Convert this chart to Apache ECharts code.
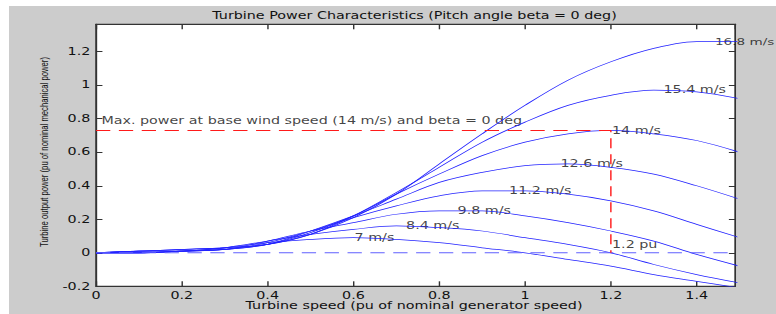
<!DOCTYPE html>
<html>
<head>
<meta charset="utf-8">
<script src="https://cdn.jsdelivr.net/npm/echarts@6/dist/echarts.min.js"></script>
<style>
  html, body { margin: 0; padding: 0; background: #ffffff; }
  #frame { position: absolute; left: 9px; top: 6px; width: 767px; height: 308px; background: #cccccc; }
  /* the reference is a horizontally stretched MATLAB figure, so we stretch too */
  #chart { position: absolute; left: 0; top: 0; width: 543px; height: 314px; transform-origin: 0 0; transform: scaleX(1.4291); }
</style>
</head>
<body>
<div id="frame"></div>
<div id="chart"></div>
<script>
// turbine speed (pu) where the curves were read
const speed = [0, 0.1, 0.2, 0.3, 0.4, 0.5, 0.6, 0.7, 0.8, 0.9, 1.0, 1.1, 1.2, 1.3, 1.4, 1.5];

// turbine output power (pu), one list per wind speed
const power7   = [0, 0.00, 0.01, 0.03, 0.06, 0.08, 0.09, 0.08, 0.06, 0.03, 0.00, -0.04, -0.08, -0.13, -0.17, -0.21];
const power8_4 = [0, 0.00, 0.01, 0.03, 0.07, 0.11, 0.14, 0.16, 0.15, 0.13, 0.09, 0.05, 0.00, -0.07, -0.13, -0.18];
const power9_8 = [0, 0.00, 0.01, 0.02, 0.07, 0.13, 0.18, 0.23, 0.25, 0.25, 0.22, 0.18, 0.13, 0.07, -0.01, -0.08];
const power11_2 = [0, 0.00, 0.01, 0.02, 0.06, 0.13, 0.21, 0.28, 0.34, 0.37, 0.37, 0.35, 0.31, 0.25, 0.17, 0.09];
const power12_6 = [0, 0.01, 0.01, 0.02, 0.05, 0.13, 0.22, 0.32, 0.42, 0.48, 0.52, 0.53, 0.51, 0.47, 0.40, 0.32];
const power14  = [0, 0.01, 0.01, 0.02, 0.05, 0.12, 0.22, 0.35, 0.47, 0.58, 0.66, 0.71, 0.73, 0.71, 0.67, 0.60];
const power15_4 = [0, 0.01, 0.02, 0.03, 0.05, 0.11, 0.22, 0.36, 0.51, 0.66, 0.78, 0.88, 0.94, 0.97, 0.96, 0.92];
const power16_8 = [0, 0.01, 0.02, 0.03, 0.05, 0.11, 0.21, 0.35, 0.53, 0.71, 0.88, 1.03, 1.14, 1.22, 1.26, 1.26];

// curve names and where each name is written (at the curve's maximum)
const windLabels = ['7 m/s', '8.4 m/s', '9.8 m/s', '11.2 m/s', '12.6 m/s', '14 m/s', '15.4 m/s', '16.8 m/s'];
const peakSpeed = [0.6, 0.72, 0.84, 0.96, 1.08, 1.2, 1.32, 1.44];
const peakPower = [0.09, 0.16, 0.25, 0.37, 0.53, 0.73, 0.97, 1.26];

// base point marked by the red dashed lines
const baseSpeed = 1.2;
const basePower = 0.73;

const curves = [power7, power8_4, power9_8, power11_2, power12_6, power14, power15_4, power16_8];

const FONT = '"DejaVu Sans", sans-serif';
const stretch = 776 / 543;
const px = v => v / stretch;   // outer (screen) x -> inner chart x

const element = document.getElementById('chart');
const chart = echarts.init(element, null, { renderer: 'svg' });

const axisCommon = {
    type: 'value',
    axisLine: { show: true, onZero: false, lineStyle: { color: '#333', width: 1 } },
    axisTick: { show: true, inside: true, lineStyle: { color: '#333' } },
    splitLine: { show: false },
    axisLabel: { fontFamily: FONT, fontSize: 10, color: '#111', showMaxLabel: false }
};

const curveSeries = curves.map((values, i) => ({
    name: windLabels[i],
    type: 'line',
    data: speed.map((x, j) => [x, values[j]]),
    showSymbol: false,
    smooth: 0.35,
    silent: true,
    lineStyle: { color: '#2222ff', width: 0.75 }
}));

const notes = windLabels.map((t, i) => ({ value: [peakSpeed[i], peakPower[i], t] }));
// last curve name sits at the right edge of the figure; a hair smaller so it fits
notes[notes.length - 1].label = { fontSize: 9.5 };
notes.push({ value: [0.01, 0.79, 'Max. power at base wind speed (14 m/s) and beta = 0 deg'] });
notes.push({ value: [baseSpeed, 0.05, '1.2 pu'] });

var option = {
    animation: false,
    grid: {
        left: px(96), top: 24.3, width: px(639.3), height: 262,
        show: true, backgroundColor: '#ffffff', borderColor: '#333', borderWidth: 1
    },
    xAxis: [
        Object.assign({}, axisCommon, {
            position: 'bottom', min: 0, max: 1.49, interval: 0.2,
            axisTick: Object.assign({}, axisCommon.axisTick, { length: 5 }),
            axisLabel: Object.assign({}, axisCommon.axisLabel, { margin: 4 })
        }),
        Object.assign({}, axisCommon, {
            position: 'top', min: 0, max: 1.49, interval: 0.2,
            axisTick: Object.assign({}, axisCommon.axisTick, { length: 5 }),
            axisLabel: { show: false }
        })
    ],
    yAxis: [
        Object.assign({}, axisCommon, {
            position: 'left', min: -0.2, max: 1.3635, interval: 0.2,
            axisTick: Object.assign({}, axisCommon.axisTick, { length: 4.5 }),
            axisLabel: Object.assign({}, axisCommon.axisLabel, { margin: 4 })
        }),
        Object.assign({}, axisCommon, {
            position: 'right', min: -0.2, max: 1.3635, interval: 0.2,
            axisTick: Object.assign({}, axisCommon.axisTick, { length: 4.5 }),
            axisLabel: { show: false }
        })
    ],
    series: curveSeries.concat([
        {
            type: 'line',
            data: [[0, 0], [1.49, 0]],
            showSymbol: false,
            silent: true,
            lineStyle: { color: '#6060ff', width: 1, type: [10, 6] }
        },
        {
            type: 'line',
            data: [[0, basePower], [baseSpeed, basePower], [baseSpeed, 0]],
            showSymbol: false,
            silent: true,
            lineStyle: { color: '#ff1a1a', width: 1, type: [10, 6] }
        },
        {
            type: 'scatter',
            data: notes,
            symbolSize: 1,
            itemStyle: { color: 'rgba(0,0,0,0)' },
            silent: true,
            label: {
                show: true,
                position: 'right',
                distance: 0.3,
                formatter: p => p.data.value[2],
                fontFamily: FONT,
                fontSize: 10,
                color: '#111'
            }
        }
    ]),
    graphic: [
        {
            type: 'text', x: px(414.5), y: 15.5,
            style: { text: 'Turbine Power Characteristics (Pitch angle beta = 0 deg)', fontFamily: FONT, fontSize: 10, fill: '#111', align: 'center', verticalAlign: 'middle' }
        },
        {
            type: 'text', x: px(414), y: 306,
            style: { text: 'Turbine speed (pu of nominal generator speed)', fontFamily: FONT, fontSize: 10, fill: '#111', align: 'center', verticalAlign: 'middle' }
        },
        {
            type: 'text', x: px(44), y: 152, rotation: Math.PI / 2,
            style: { text: 'Turbine output power (pu of nominal mechanical power)', fontFamily: '"Liberation Sans", sans-serif', fontSize: 7.7, fill: '#111', align: 'center', verticalAlign: 'middle' }
        }
    ]
};

option && chart.setOption(option);
</script>
</body>
</html>
